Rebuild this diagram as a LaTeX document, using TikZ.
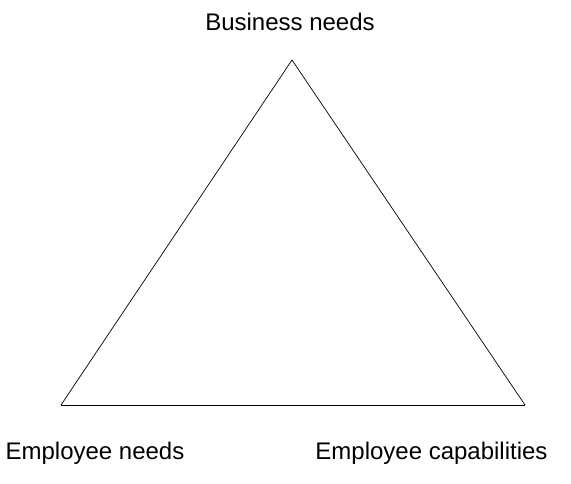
\documentclass[tikz,border=0pt]{standalone}
\usepackage{fontspec}
\setmainfont{Liberation Sans}
\tikzset{
  corner/.style={font=\fontsize{24}{28}\selectfont, inner sep=0pt},
  side/.style={draw=black, line width=0.7pt}
}
\begin{document}
\begin{tikzpicture}[x=1pt,y=-1pt]
      \useasboundingbox (0,0) rectangle (571,484);
      \coordinate (top) at (292,60);
      \coordinate (left) at (61,405);
      \coordinate (right) at (525,405);
      \draw
        (290,22) node[corner] (business){Business needs}
        (95,453) node[corner] (empneeds){Employee needs}
        (431.5,453) node[corner] (empcap){Employee capabilities};
      \begin{scope}[side]
        \draw (top) to (right);
        \draw (right) to (left);
        \draw (left) to (top);
      \end{scope}
    \end{tikzpicture}
\end{document}
